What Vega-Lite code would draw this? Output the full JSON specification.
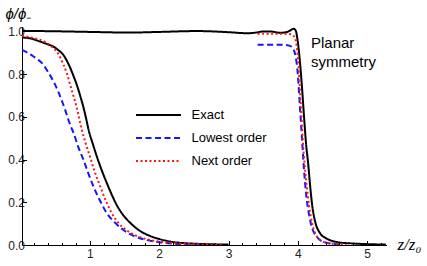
{
  "$schema": "https://vega.github.io/schema/vega-lite/v6.json",
  "width": 364.5,
  "height": 218,
  "autosize": "none",
  "padding": {"left": 22, "top": 27, "right": 40.5, "bottom": 21},
  "background": "white",
  "config": {
    "view": {"stroke": null},
    "font": "Liberation Sans"
  },
  "resolve": {"axis": {"x": "independent"}},
  "datasets": {
    "curves": [
      {"s": "Exact", "g": "a", "z": 0.02, "v": 0.971},
      {"s": "Exact", "g": "a", "z": 0.15, "v": 0.966},
      {"s": "Exact", "g": "a", "z": 0.28, "v": 0.952},
      {"s": "Exact", "g": "a", "z": 0.4, "v": 0.938},
      {"s": "Exact", "g": "a", "z": 0.48, "v": 0.927},
      {"s": "Exact", "g": "a", "z": 0.55, "v": 0.91},
      {"s": "Exact", "g": "a", "z": 0.62, "v": 0.888},
      {"s": "Exact", "g": "a", "z": 0.67, "v": 0.86},
      {"s": "Exact", "g": "a", "z": 0.72, "v": 0.826},
      {"s": "Exact", "g": "a", "z": 0.77, "v": 0.785},
      {"s": "Exact", "g": "a", "z": 0.81, "v": 0.75},
      {"s": "Exact", "g": "a", "z": 0.86, "v": 0.698},
      {"s": "Exact", "g": "a", "z": 0.91, "v": 0.64},
      {"s": "Exact", "g": "a", "z": 0.95, "v": 0.585},
      {"s": "Exact", "g": "a", "z": 0.98, "v": 0.54},
      {"s": "Exact", "g": "a", "z": 1.04, "v": 0.475},
      {"s": "Exact", "g": "a", "z": 1.1, "v": 0.414},
      {"s": "Exact", "g": "a", "z": 1.17, "v": 0.35},
      {"s": "Exact", "g": "a", "z": 1.245, "v": 0.289},
      {"s": "Exact", "g": "a", "z": 1.32, "v": 0.232},
      {"s": "Exact", "g": "a", "z": 1.39, "v": 0.185},
      {"s": "Exact", "g": "a", "z": 1.48, "v": 0.14},
      {"s": "Exact", "g": "a", "z": 1.58, "v": 0.104},
      {"s": "Exact", "g": "a", "z": 1.7, "v": 0.071},
      {"s": "Exact", "g": "a", "z": 1.87, "v": 0.042},
      {"s": "Exact", "g": "a", "z": 2.0, "v": 0.028},
      {"s": "Exact", "g": "a", "z": 2.16, "v": 0.016},
      {"s": "Exact", "g": "a", "z": 2.35, "v": 0.009},
      {"s": "Exact", "g": "a", "z": 2.59, "v": 0.005},
      {"s": "Exact", "g": "a", "z": 2.8, "v": 0.003},
      {"s": "Exact", "g": "a", "z": 3.0, "v": 0.002},

      {"s": "Exact", "g": "b", "z": 0.02, "v": 1.002},
      {"s": "Exact", "g": "b", "z": 0.5, "v": 1.0},
      {"s": "Exact", "g": "b", "z": 1.0, "v": 0.997},
      {"s": "Exact", "g": "b", "z": 1.58, "v": 0.994},
      {"s": "Exact", "g": "b", "z": 2.0, "v": 0.997},
      {"s": "Exact", "g": "b", "z": 2.55, "v": 1.001},
      {"s": "Exact", "g": "b", "z": 2.8, "v": 0.999},
      {"s": "Exact", "g": "b", "z": 3.03, "v": 0.995},
      {"s": "Exact", "g": "b", "z": 3.27, "v": 0.991},
      {"s": "Exact", "g": "b", "z": 3.4, "v": 0.994},
      {"s": "Exact", "g": "b", "z": 3.5, "v": 0.999},
      {"s": "Exact", "g": "b", "z": 3.6, "v": 0.999},
      {"s": "Exact", "g": "b", "z": 3.75, "v": 0.993},
      {"s": "Exact", "g": "b", "z": 3.85, "v": 0.997},
      {"s": "Exact", "g": "b", "z": 3.9, "v": 1.006},
      {"s": "Exact", "g": "b", "z": 3.94, "v": 1.012},
      {"s": "Exact", "g": "b", "z": 3.97, "v": 1.003},
      {"s": "Exact", "g": "b", "z": 4.0, "v": 0.95},
      {"s": "Exact", "g": "b", "z": 4.03, "v": 0.86},
      {"s": "Exact", "g": "b", "z": 4.06, "v": 0.74},
      {"s": "Exact", "g": "b", "z": 4.09, "v": 0.6},
      {"s": "Exact", "g": "b", "z": 4.12, "v": 0.47},
      {"s": "Exact", "g": "b", "z": 4.15, "v": 0.38},
      {"s": "Exact", "g": "b", "z": 4.18, "v": 0.27},
      {"s": "Exact", "g": "b", "z": 4.21, "v": 0.18},
      {"s": "Exact", "g": "b", "z": 4.25, "v": 0.11},
      {"s": "Exact", "g": "b", "z": 4.32, "v": 0.056},
      {"s": "Exact", "g": "b", "z": 4.4, "v": 0.033},
      {"s": "Exact", "g": "b", "z": 4.47, "v": 0.022},
      {"s": "Exact", "g": "b", "z": 4.6, "v": 0.012},
      {"s": "Exact", "g": "b", "z": 4.8, "v": 0.007},
      {"s": "Exact", "g": "b", "z": 5.0, "v": 0.004},
      {"s": "Exact", "g": "b", "z": 5.27, "v": 0.002},

      {"s": "Lowest order", "g": "a", "z": 0.02, "v": 0.913},
      {"s": "Lowest order", "g": "a", "z": 0.1, "v": 0.9},
      {"s": "Lowest order", "g": "a", "z": 0.186, "v": 0.882},
      {"s": "Lowest order", "g": "a", "z": 0.26, "v": 0.865},
      {"s": "Lowest order", "g": "a", "z": 0.33, "v": 0.843},
      {"s": "Lowest order", "g": "a", "z": 0.4, "v": 0.807},
      {"s": "Lowest order", "g": "a", "z": 0.475, "v": 0.765},
      {"s": "Lowest order", "g": "a", "z": 0.54, "v": 0.72},
      {"s": "Lowest order", "g": "a", "z": 0.6, "v": 0.671},
      {"s": "Lowest order", "g": "a", "z": 0.65, "v": 0.625},
      {"s": "Lowest order", "g": "a", "z": 0.69, "v": 0.585},
      {"s": "Lowest order", "g": "a", "z": 0.73, "v": 0.55},
      {"s": "Lowest order", "g": "a", "z": 0.763, "v": 0.525},
      {"s": "Lowest order", "g": "a", "z": 0.83, "v": 0.46},
      {"s": "Lowest order", "g": "a", "z": 0.908, "v": 0.398},
      {"s": "Lowest order", "g": "a", "z": 0.98, "v": 0.333},
      {"s": "Lowest order", "g": "a", "z": 1.052, "v": 0.273},
      {"s": "Lowest order", "g": "a", "z": 1.15, "v": 0.205},
      {"s": "Lowest order", "g": "a", "z": 1.245, "v": 0.148},
      {"s": "Lowest order", "g": "a", "z": 1.36, "v": 0.105},
      {"s": "Lowest order", "g": "a", "z": 1.485, "v": 0.07},
      {"s": "Lowest order", "g": "a", "z": 1.65, "v": 0.04},
      {"s": "Lowest order", "g": "a", "z": 1.82, "v": 0.023},
      {"s": "Lowest order", "g": "a", "z": 2.0, "v": 0.013},
      {"s": "Lowest order", "g": "a", "z": 2.2, "v": 0.007},
      {"s": "Lowest order", "g": "a", "z": 2.6, "v": 0.002},

      {"s": "Lowest order", "g": "b", "z": 3.42, "v": 0.937},
      {"s": "Lowest order", "g": "b", "z": 3.7, "v": 0.937},
      {"s": "Lowest order", "g": "b", "z": 3.85, "v": 0.935},
      {"s": "Lowest order", "g": "b", "z": 3.9, "v": 0.93},
      {"s": "Lowest order", "g": "b", "z": 3.94, "v": 0.915},
      {"s": "Lowest order", "g": "b", "z": 3.97, "v": 0.88},
      {"s": "Lowest order", "g": "b", "z": 4.0, "v": 0.8},
      {"s": "Lowest order", "g": "b", "z": 4.03, "v": 0.65},
      {"s": "Lowest order", "g": "b", "z": 4.06, "v": 0.5},
      {"s": "Lowest order", "g": "b", "z": 4.09, "v": 0.35},
      {"s": "Lowest order", "g": "b", "z": 4.13, "v": 0.21},
      {"s": "Lowest order", "g": "b", "z": 4.17, "v": 0.13},
      {"s": "Lowest order", "g": "b", "z": 4.2, "v": 0.085},
      {"s": "Lowest order", "g": "b", "z": 4.26, "v": 0.045},
      {"s": "Lowest order", "g": "b", "z": 4.32, "v": 0.023},
      {"s": "Lowest order", "g": "b", "z": 4.4, "v": 0.012},
      {"s": "Lowest order", "g": "b", "z": 4.47, "v": 0.007},
      {"s": "Lowest order", "g": "b", "z": 4.6, "v": 0.003},

      {"s": "Next order", "g": "a", "z": 0.02, "v": 0.979},
      {"s": "Next order", "g": "a", "z": 0.19, "v": 0.968},
      {"s": "Next order", "g": "a", "z": 0.38, "v": 0.945},
      {"s": "Next order", "g": "a", "z": 0.45, "v": 0.928},
      {"s": "Next order", "g": "a", "z": 0.52, "v": 0.905},
      {"s": "Next order", "g": "a", "z": 0.57, "v": 0.878},
      {"s": "Next order", "g": "a", "z": 0.62, "v": 0.843},
      {"s": "Next order", "g": "a", "z": 0.67, "v": 0.8},
      {"s": "Next order", "g": "a", "z": 0.716, "v": 0.749},
      {"s": "Next order", "g": "a", "z": 0.76, "v": 0.7},
      {"s": "Next order", "g": "a", "z": 0.812, "v": 0.64},
      {"s": "Next order", "g": "a", "z": 0.85, "v": 0.585},
      {"s": "Next order", "g": "a", "z": 0.884, "v": 0.537},
      {"s": "Next order", "g": "a", "z": 0.94, "v": 0.475},
      {"s": "Next order", "g": "a", "z": 1.0, "v": 0.414},
      {"s": "Next order", "g": "a", "z": 1.07, "v": 0.342},
      {"s": "Next order", "g": "a", "z": 1.15, "v": 0.273},
      {"s": "Next order", "g": "a", "z": 1.23, "v": 0.207},
      {"s": "Next order", "g": "a", "z": 1.317, "v": 0.148},
      {"s": "Next order", "g": "a", "z": 1.42, "v": 0.1},
      {"s": "Next order", "g": "a", "z": 1.534, "v": 0.068},
      {"s": "Next order", "g": "a", "z": 1.68, "v": 0.042},
      {"s": "Next order", "g": "a", "z": 1.82, "v": 0.027},
      {"s": "Next order", "g": "a", "z": 2.0, "v": 0.016},
      {"s": "Next order", "g": "a", "z": 2.2, "v": 0.009},
      {"s": "Next order", "g": "a", "z": 2.5, "v": 0.004},
      {"s": "Next order", "g": "a", "z": 2.9, "v": 0.001},

      {"s": "Next order", "g": "b", "z": 3.42, "v": 0.988},
      {"s": "Next order", "g": "b", "z": 3.6, "v": 0.988},
      {"s": "Next order", "g": "b", "z": 3.8, "v": 0.988},
      {"s": "Next order", "g": "b", "z": 3.9, "v": 0.986},
      {"s": "Next order", "g": "b", "z": 3.95, "v": 0.975},
      {"s": "Next order", "g": "b", "z": 3.98, "v": 0.94},
      {"s": "Next order", "g": "b", "z": 4.01, "v": 0.84},
      {"s": "Next order", "g": "b", "z": 4.04, "v": 0.67},
      {"s": "Next order", "g": "b", "z": 4.07, "v": 0.5},
      {"s": "Next order", "g": "b", "z": 4.1, "v": 0.37},
      {"s": "Next order", "g": "b", "z": 4.13, "v": 0.27},
      {"s": "Next order", "g": "b", "z": 4.16, "v": 0.19},
      {"s": "Next order", "g": "b", "z": 4.2, "v": 0.11},
      {"s": "Next order", "g": "b", "z": 4.25, "v": 0.055},
      {"s": "Next order", "g": "b", "z": 4.3, "v": 0.03},
      {"s": "Next order", "g": "b", "z": 4.37, "v": 0.015},
      {"s": "Next order", "g": "b", "z": 4.45, "v": 0.008},
      {"s": "Next order", "g": "b", "z": 4.56, "v": 0.004},
      {"s": "Next order", "g": "b", "z": 4.7, "v": 0.002}
    ],
    "notes": [
      {"z": 4.19, "v": 0.923, "t": "Planar"},
      {"z": 4.19, "v": 0.834, "t": "symmetry"}
    ]
  },
  "layer": [
    {
      "data": {"name": "curves"},
      "mark": {"type": "line", "interpolate": "monotone", "strokeWidth": 2, "clip": true},
      "encoding": {
        "x": {
          "field": "z", "type": "quantitative",
          "scale": {"domain": [0.02, 5.28], "nice": false, "zero": false},
          "axis": {
            "orient": "bottom",
            "title": "z/z₀",
            "titleFont": "Liberation Serif",
            "titleFontStyle": "italic",
            "titleFontWeight": "normal",
            "titleFontSize": 17,
            "titleColor": "#000",
            "titleAngle": 0,
            "titleAlign": "left",
            "titleBaseline": "alphabetic",
            "titleX": 375,
            "titleY": 4,
            "values": [1, 2, 3, 4, 5],
            "format": "d",
            "labelFontSize": 12,
            "labelColor": "#222",
            "labelPadding": 8,
            "labelFlush": false,
            "labelOverlap": false,
            "grid": false,
            "domainColor": "#000",
            "domainWidth": 1,
            "tickColor": "#000",
            "tickWidth": 1,
            "tickSize": -4.5
          }
        },
        "y": {
          "field": "v", "type": "quantitative",
          "scale": {"domain": [0, 1.02], "nice": false, "zero": false},
          "axis": {
            "title": "ϕ/ϕ₋",
            "titleFontStyle": "italic",
            "titleFontWeight": "normal",
            "titleFontSize": 15,
            "titleColor": "#000",
            "titleAngle": 0,
            "titleAlign": "left",
            "titleBaseline": "alphabetic",
            "titleX": -17,
            "titleY": -9,
            "values": [0,0.05,0.1,0.15,0.2,0.25,0.3,0.35,0.4,0.45,0.5,0.55,0.6,0.65,0.7,0.75,0.8,0.85,0.9,0.95,1.0],
            "labelExpr": "abs(datum.value*5 - round(datum.value*5)) < 0.001 ? format(datum.value, '.1f') : ''",
            "labelFontSize": 12,
            "labelColor": "#222",
            "labelPadding": 2,
            "labelFlush": false,
            "labelOverlap": false,
            "grid": false,
            "domainColor": "#000",
            "domainWidth": 1,
            "tickColor": "#000",
            "tickWidth": 1,
            "tickSize": {"condition": {"test": "abs(datum.value*5 - round(datum.value*5)) < 0.001", "value": -4.5}, "value": -2.5}
          }
        },
        "detail": {"field": "g"},
        "color": {
          "field": "s", "type": "nominal",
          "scale": {"domain": ["Exact", "Lowest order", "Next order"], "range": ["#000000", "#1414ff", "#ff1414"]},
          "legend": {
            "title": null,
            "orient": "none",
            "legendX": 126.5,
            "legendY": 78,
            "symbolType": "M-2.5,0H2.5",
            "symbolSize": 324,
            "symbolStrokeWidth": 2,
            "labelFontSize": 13,
            "labelColor": "#000",
            "labelOffset": 23,
            "rowPadding": 6,
            "padding": 0
          }
        },
        "strokeDash": {
          "field": "s", "type": "nominal",
          "scale": {"domain": ["Exact", "Lowest order", "Next order"], "range": [[1, 0], [6, 3.5], [2, 2.5]]},
          "legend": {
            "title": null,
            "orient": "none",
            "legendX": 126.5,
            "legendY": 78,
            "symbolType": "M-2.5,0H2.5",
            "symbolSize": 324,
            "symbolStrokeWidth": 2,
            "labelFontSize": 13,
            "labelColor": "#000",
            "labelOffset": 23,
            "rowPadding": 6,
            "padding": 0
          }
        }
      }
    },
    {
      "data": {"name": "notes"},
      "mark": {"type": "text", "align": "left", "baseline": "alphabetic", "fontSize": 15, "color": "#000"},
      "encoding": {
        "x": {
          "field": "z", "type": "quantitative",
          "axis": {
            "orient": "bottom",
            "title": null,
            "values": [0.2,0.4,0.6,0.8,1.2,1.4,1.6,1.8,2.2,2.4,2.6,2.8,3.2,3.4,3.6,3.8,4.2,4.4,4.6,4.8,5.2],
            "labels": false,
            "domain": false,
            "grid": false,
            "tickColor": "#000",
            "tickWidth": 1,
            "tickSize": -2.5
          }
        },
        "y": {"field": "v", "type": "quantitative"},
        "text": {"field": "t"}
      }
    }
  ]
}
